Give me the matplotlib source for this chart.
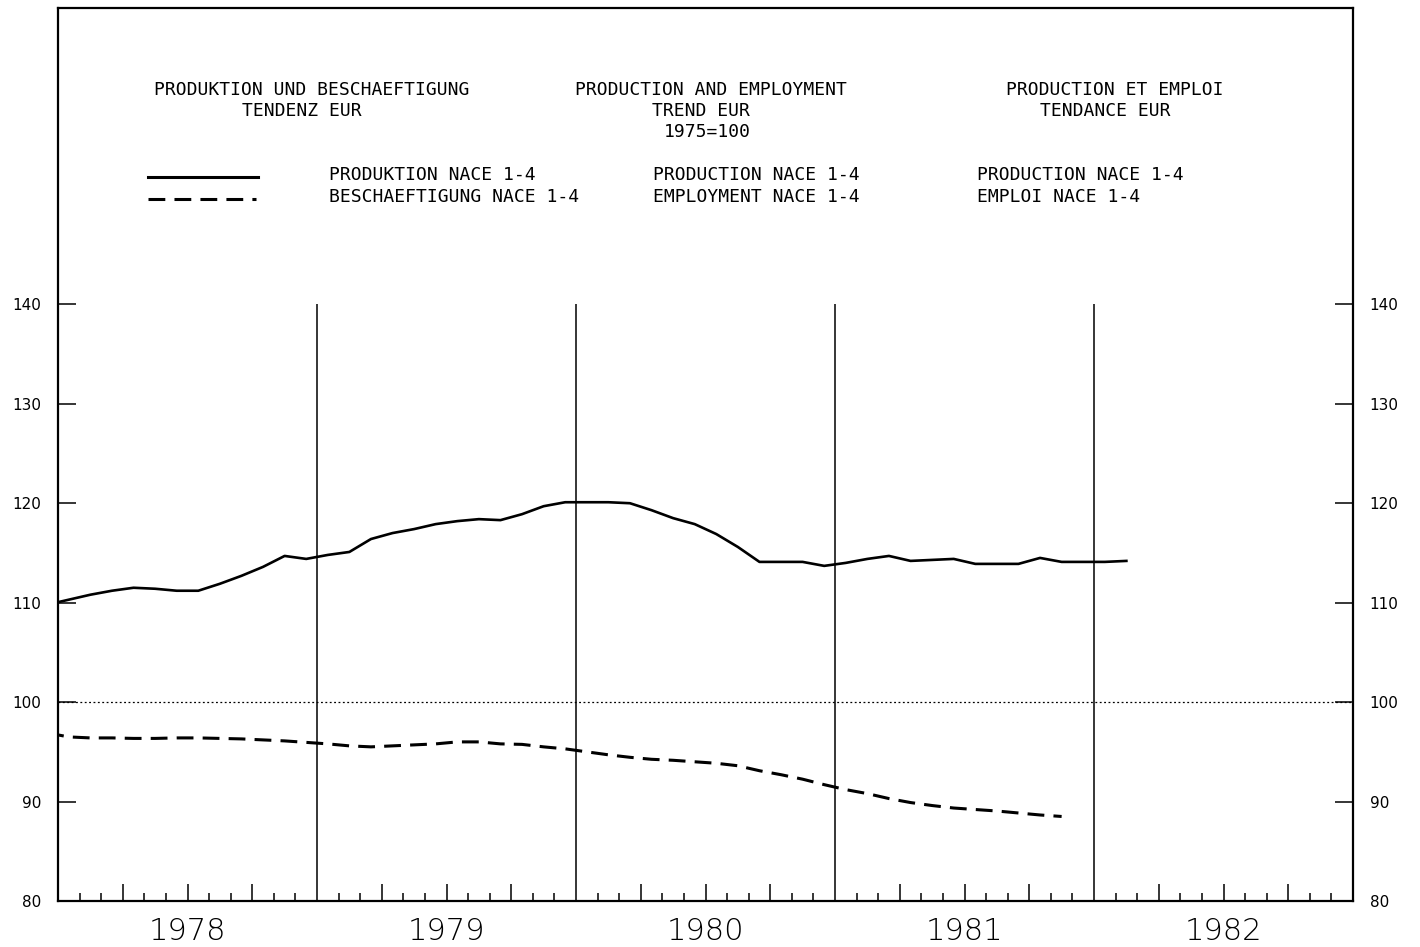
import numpy as np
import matplotlib
matplotlib.use("Agg")
import matplotlib.pyplot as plt
from matplotlib.lines import Line2D

# monthly trend values, plotted at mid-month; first value is Dec 1977
production = [109.8, 110.3, 110.8, 111.2, 111.5, 111.4, 111.2, 111.2, 111.9, 112.7,
              113.6, 114.7, 114.4, 114.8, 115.1, 116.4, 117.0, 117.4, 117.9, 118.2,
              118.4, 118.3, 118.9, 119.7, 120.1, 120.1, 120.1, 120.0, 119.3, 118.5,
              117.9, 116.9, 115.6, 114.1, 114.1, 114.1, 113.7, 114.0, 114.4, 114.7,
              114.2, 114.3, 114.4, 113.9, 113.9, 113.9, 114.5, 114.1, 114.1, 114.1,
              114.2]
employment = [96.9, 96.5, 96.4, 96.4, 96.35, 96.35, 96.4, 96.4, 96.35, 96.3,
              96.2, 96.1, 95.95, 95.8, 95.6, 95.5, 95.6, 95.7, 95.8, 96.0,
              96.0, 95.8, 95.75, 95.5, 95.3, 95.0, 94.7, 94.45, 94.25, 94.15,
              94.0, 93.85, 93.6, 93.1, 92.7, 92.25, 91.7, 91.2, 90.8, 90.3,
              89.9, 89.6, 89.35, 89.2, 89.05, 88.85, 88.65, 88.5]
years = ['1978', '1979', '1980', '1981', '1982']
y_ticks = [80, 90, 100, 110, 120, 130, 140]

# months since start of Jan 1978, mid-month positions
prod_x = np.arange(len(production)) - 0.5
emp_x = np.arange(len(employment)) - 0.5

W, H = 1420, 947
fig = plt.figure(figsize=(W / 100, H / 100), dpi=100)
ax = fig.add_axes([58 / W, 1 - 901 / H, (1353 - 58) / W, (901 - 8) / H])

n_months = 12 * len(years)
ax.set_xlim(0, n_months)
ax.set_ylim(80, 169.8)

ax.plot(prod_x, production, color='black', lw=1.9, solid_joinstyle='round')
ax.plot(emp_x, employment, color='black', lw=2.2, linestyle=(0, (5.5, 3.0)), dash_capstyle='butt')

ax.axhline(100, color='black', lw=0.9, linestyle=(0, (1.5, 2.0)))
ax.vlines([12 * k for k in range(1, len(years))], 80, 140, color='black', lw=1.1)

for s in ax.spines.values():
    s.set_linewidth(1.6)

quarters = [m for m in range(3, n_months, 3) if m % 12 != 0]
months = [m for m in range(1, n_months) if m % 3 != 0]
ax.set_xticks(quarters)
ax.set_xticks(months, minor=True)
ax.tick_params(axis='x', which='major', direction='in', length=12, width=1.1, labelbottom=False)
ax.tick_params(axis='x', which='minor', direction='in', length=6, width=1.1)

ax.set_yticks(y_ticks)
ax.set_yticklabels([str(v) for v in y_ticks])
ax.tick_params(axis='y', direction='in', length=13, width=1.1, left=True, right=True,
               labelleft=True, labelright=True, labelsize=11, pad=12)

for k, yr in enumerate(years):
    ax.text(12 * k + 6, -0.034, yr, transform=ax.get_xaxis_transform(), ha='center', va='center',
            fontsize=22, fontweight='light', color='black')

mono = 'DejaVu Sans Mono'
fs = 13


def ftext(x, y, s, ha='center'):
    fig.text(x / W, 1 - y / H, s, ha=ha, va='center', family=mono, fontsize=fs)


ftext(312, 90, 'PRODUKTION UND BESCHAEFTIGUNG')
ftext(302, 111, 'TENDENZ EUR')
ftext(711, 90, 'PRODUCTION AND EMPLOYMENT')
ftext(701, 111, 'TREND EUR')
ftext(707, 132, '1975=100')
ftext(1115, 90, 'PRODUCTION ET EMPLOI')
ftext(1105, 111, 'TENDANCE EUR')

ftext(329, 175, 'PRODUKTION NACE 1-4', ha='left')
ftext(329, 197, 'BESCHAEFTIGUNG NACE 1-4', ha='left')
ftext(653, 175, 'PRODUCTION NACE 1-4', ha='left')
ftext(653, 197, 'EMPLOYMENT NACE 1-4', ha='left')
ftext(977, 175, 'PRODUCTION NACE 1-4', ha='left')
ftext(977, 197, 'EMPLOI NACE 1-4', ha='left')

fig.add_artist(Line2D([148 / W, 258 / W], [1 - 177 / H, 1 - 177 / H], color='black', lw=2.2))
fig.add_artist(Line2D([148 / W, 256 / W], [1 - 199 / H, 1 - 199 / H], color='black', lw=2.2,
                      linestyle=(0, (5.5, 3.0)), dash_capstyle='butt'))

fig.savefig('out.png', dpi=100, facecolor='white')
